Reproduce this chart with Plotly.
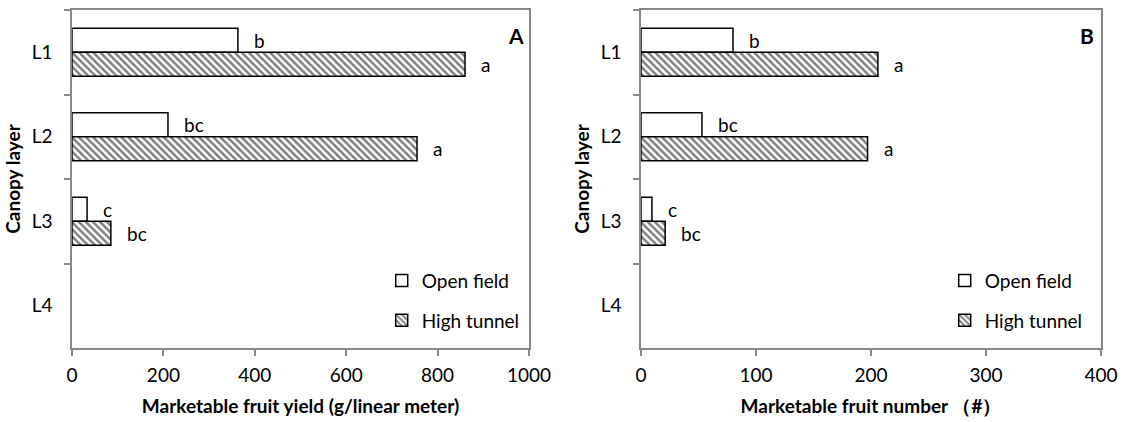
import plotly.graph_objects as go

# Canopy layers (top to bottom)
layers = ["L1", "L2", "L3", "L4"]

# Panel A: marketable fruit yield (g/linear meter)
yield_open = [363, 210, 33, None]
yield_tunnel = [860, 755, 85, None]
yield_open_letters = ["b", "bc", "c", ""]
yield_tunnel_letters = ["a", "a", "bc", ""]

# Panel B: marketable fruit number (#)
number_open = [80, 53, 9.5, None]
number_tunnel = [206, 197, 21, None]
number_open_letters = ["b", "bc", "c", ""]
number_tunnel_letters = ["a", "a", "bc", ""]

x_ticks_a = [0, 200, 400, 600, 800, 1000]
x_ticks_b = [0, 100, 200, 300, 400]

FONT = "Lato"
AXIS_GREY = "#888888"
BARGAP = 0.432
HALF = (1 - BARGAP) / 4  # centre offset of each bar within a group

fig = go.Figure()

def add_panel(xa, ya, legend, open_vals, tunnel_vals):
    fig.add_trace(go.Bar(
        y=layers, x=open_vals, orientation="h", name="Open field",
        xaxis=xa, yaxis=ya, legend=legend, legendgroup="open",
        marker=dict(color="white", line=dict(color="black", width=1.5)),
        hoverinfo="skip",
    ))
    fig.add_trace(go.Bar(
        y=layers, x=tunnel_vals, orientation="h", name="High tunnel",
        xaxis=xa, yaxis=ya, legend=legend, legendgroup="tunnel",
        marker=dict(color="white", line=dict(color="black", width=1.5),
                    pattern=dict(shape="\\", fgcolor="black", bgcolor="white",
                                 size=5, solidity=0.5, fillmode="overlay")),
        hoverinfo="skip",
    ))

add_panel("x", "y", "legend", yield_open, yield_tunnel)
add_panel("x2", "y2", "legend2", number_open, number_tunnel)

annotations = []

def add_letters(xref, yref, vals, letters, offset):
    for i, (v, t) in enumerate(zip(vals, letters)):
        if v is None or not t:
            continue
        annotations.append(dict(
            x=v, y=i + offset, xref=xref, yref=yref, text=t,
            showarrow=False, xanchor="left", yanchor="middle", xshift=14,
            font=dict(family=FONT, size=19, color="black"),
        ))

add_letters("x", "y", yield_open, yield_open_letters, -HALF)
add_letters("x", "y", yield_tunnel, yield_tunnel_letters, HALF)
add_letters("x2", "y2", number_open, number_open_letters, -HALF)
add_letters("x2", "y2", number_tunnel, number_tunnel_letters, HALF)

# panel letters
for txt, px in (("A", 516 / 1126), ("B", 1087 / 1126)):
    annotations.append(dict(x=px, y=1 - 35 / 422, xref="paper", yref="paper",
                            text=f"<b>{txt}</b>", showarrow=False,
                            xanchor="center", yanchor="middle",
                            font=dict(family=FONT, size=21, color="black")))

x_dom_a = [72 / 1126, 529 / 1126]
x_dom_b = [641 / 1126, 1101 / 1126]
y_dom = [1 - 348 / 422, 1 - 10 / 422]

def xaxis(dom, anchor, rng, ticks, title):
    return dict(
        domain=dom, anchor=anchor, range=rng, tickvals=ticks,
        showline=True, mirror=True, linecolor=AXIS_GREY, linewidth=1.5,
        ticks="outside", ticklen=6, tickcolor=AXIS_GREY, tickwidth=1.5,
        showgrid=False, zeroline=False, ticklabelstandoff=3,
        tickfont=dict(family=FONT, size=19, color="black"),
        title=dict(text=title, standoff=15,
                   font=dict(family=FONT, size=19, color="black", weight="bold")),
        automargin=False, fixedrange=True,
    )

def yaxis(anchor):
    return dict(
        domain=y_dom, anchor=anchor, type="category",
        categoryorder="array", categoryarray=layers, range=[3.5, -0.5],
        showline=True, mirror=True, linecolor=AXIS_GREY, linewidth=1.5,
        ticks="outside", ticklen=6, tickcolor=AXIS_GREY, tickwidth=1.5,
        tickson="boundaries", showgrid=False, zeroline=False,
        ticklabelstandoff=14,
        tickfont=dict(family=FONT, size=19, color="black"),
        title=dict(text="Canopy layer", standoff=6,
                   font=dict(family=FONT, size=19, color="black", weight="bold")),
        automargin=False, fixedrange=True,
    )

legend_common = dict(
    bgcolor="rgba(0,0,0,0)", borderwidth=0, traceorder="grouped",
    tracegroupgap=12, xanchor="left", yanchor="top",
    font=dict(family=FONT, size=19, color="black"),
    itemclick=False, itemdoubleclick=False,
)

fig.update_layout(
    width=1126, height=422,
    margin=dict(l=0, r=0, t=0, b=0),
    template="none",
    paper_bgcolor="white", plot_bgcolor="white",
    barmode="group", bargap=BARGAP, bargroupgap=0,
    xaxis=xaxis(x_dom_a, "y", [0, 1000], x_ticks_a,
                "Marketable fruit yield (g/linear meter)"),
    yaxis=yaxis("x"),
    xaxis2=xaxis(x_dom_b, "y2", [0, 400], x_ticks_b,
                 "Marketable fruit number （#）"),
    yaxis2=yaxis("x2"),
    legend=dict(x=0.339, y=0.380, **legend_common),
    legend2=dict(x=0.839, y=0.380, **legend_common),
    annotations=annotations,
    showlegend=True,
)

fig.write_html("out.html")
